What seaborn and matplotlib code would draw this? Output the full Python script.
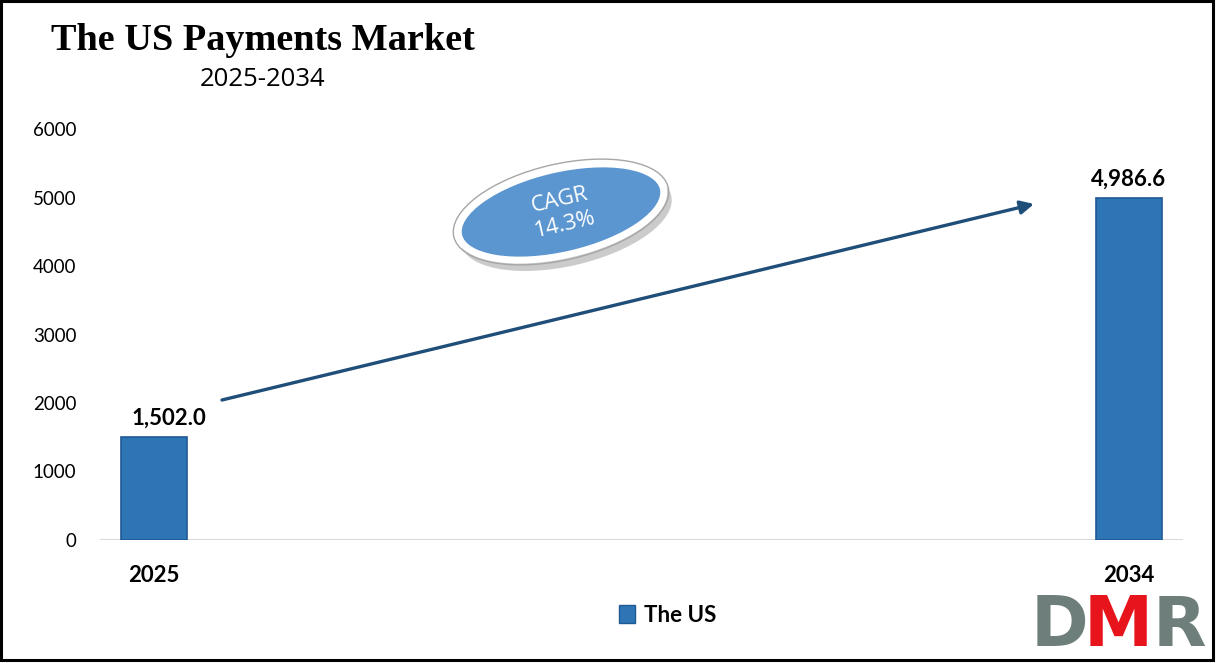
import numpy as np
import pandas as pd
import seaborn as sns
import matplotlib.pyplot as plt
from matplotlib.patches import Ellipse, Rectangle

# chart data
years = ['2025', '2034']
market_size = [1502.0, 4986.6]
series_name = 'The US'
cagr_text = 'CAGR\n14.3%'
title = 'The US Payments Market'
subtitle = '2025-2034'

sns.set_style('white')
plt.rcParams['font.family'] = ['Lato', 'DejaVu Sans']
plt.rcParams['text.color'] = 'black'
plt.rcParams['xtick.color'] = 'black'
plt.rcParams['ytick.color'] = 'black'

df = pd.DataFrame({'year': years, 'value': market_size, 'series': series_name})

fig = plt.figure(figsize=(12.16, 6.63), dpi=100)
ax = fig.add_axes([100 / 1216, 1 - 540 / 663, 1083 / 1216, 411 / 663])

bar_color = '#2E75B6'
sns.barplot(data=df, x='year', y='value', hue='series', palette=[bar_color],
            saturation=1, width=0.067, edgecolor='#1F5A94', linewidth=1.2, ax=ax,
            legend=False)

ax.set_xlim(-54 / 975, 1 + 54 / 975)
ax.set_ylim(0, 6000)
ax.set_yticks(np.arange(0, 6001, 1000))
ax.set_xlabel('')
ax.set_ylabel('')
sns.despine(ax=ax, left=True, bottom=True)
ax.axhline(0, color='#D9D9D9', lw=1.5, zorder=0)
ax.tick_params(axis='y', length=0, pad=17, labelsize=13.5)
ax.tick_params(axis='x', length=0, pad=18, labelsize=16)
for lbl in ax.get_xticklabels():
    lbl.set_fontweight('bold')

# value labels above bars
label_dx = [11, 0]
for i, v in enumerate(market_size):
    ax.annotate('{:,.1f}'.format(v), (i, v), xytext=(label_dx[i], 6),
                textcoords='offset points', ha='center', va='bottom',
                fontsize=16, fontweight='bold')

# legend
handle = Rectangle((0, 0), 1, 1, facecolor=bar_color, edgecolor='#1F5A94')
fig.legend([handle], [series_name], loc='center', bbox_to_anchor=(0.549, 0.072),
           frameon=False, handlelength=0.7, handleheight=0.85, handletextpad=0.4,
           prop={'weight': 'bold', 'size': 16})

# overlay in pixel coordinates for decorations
ov = fig.add_axes([0, 0, 1, 1], facecolor='none')
ov.set_xlim(0, 1216)
ov.set_ylim(663, 0)
ov.axis('off')

ov.text(263, 40, title, ha='center', va='center', fontsize=27.5, fontweight='bold',
        family='Liberation Serif', color='black')
ov.text(263, 79, subtitle, ha='center', va='center', fontsize=18.5, family='Open Sans',
        color='black')

# trend arrow
ov.annotate('', xy=(1034, 204), xytext=(222, 400),
            arrowprops=dict(arrowstyle='-|>', color='#1F4E79', lw=2.4, mutation_scale=20,
                            shrinkA=0, shrinkB=0))

# CAGR bubble
ov.add_patch(Ellipse((566, 220), 216, 92, angle=-13, facecolor='#7F7F7F', alpha=0.4,
                     edgecolor='none'))
ov.add_patch(Ellipse((561, 212), 210, 86, angle=-13, facecolor='#5B96D0',
                     edgecolor='white', lw=5))
ov.add_patch(Ellipse((561, 212), 220, 96, angle=-13, facecolor='none',
                     edgecolor='#A6A6A6', lw=1))
ov.text(562, 212, cagr_text, ha='center', va='center', color='white', fontsize=16,
        rotation=13, family='Open Sans', linespacing=1.25)

# logo
ov.text(1031, 626, 'D', ha='left', va='center', color='#6E7E7A', fontsize=50,
        fontweight='bold', family='DejaVu Sans')
ov.text(1084, 626, 'M', ha='left', va='center', color='#E8141B', fontsize=50,
        fontweight='bold', family='DejaVu Sans')
ov.text(1153, 626, 'R', ha='left', va='center', color='#6E7E7A', fontsize=50,
        fontweight='bold', family='DejaVu Sans')

# outer border
ov.add_patch(Rectangle((1, 1), 1212, 659, facecolor='none', edgecolor='black', lw=2.2))

fig.savefig('out.png', dpi=100)
